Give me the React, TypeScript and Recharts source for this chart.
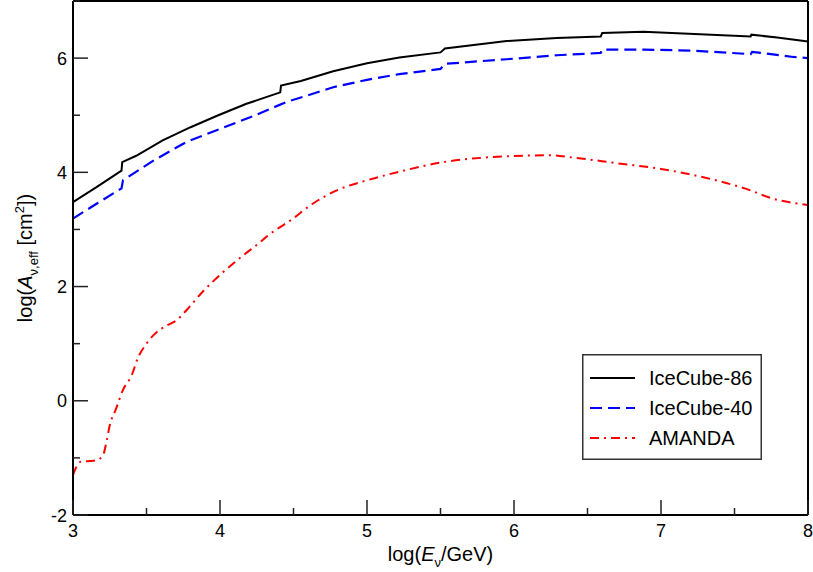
import React from 'react';
import { LineChart, Line, XAxis, YAxis, Legend } from 'recharts';

// log10(E / GeV) and log10(A_eff / cm^2)
const ic86Energy = [3.0, 3.16, 3.33, 3.335, 3.43, 3.61, 3.8, 3.98, 4.18, 4.41, 4.415, 4.55, 4.77, 5.0, 5.22, 5.5, 5.53, 5.95, 6.29, 6.59, 6.6, 6.88, 7.15, 7.61, 7.615, 7.79, 8.0];
const ic86Area = [3.48, 3.74, 4.03, 4.18, 4.29, 4.56, 4.79, 4.99, 5.2, 5.4, 5.52, 5.6, 5.77, 5.91, 6.01, 6.1, 6.17, 6.3, 6.35, 6.38, 6.44, 6.46, 6.43, 6.38, 6.41, 6.36, 6.29];

const ic40Energy = [3.0, 3.16, 3.33, 3.34, 3.55, 3.77, 4.0, 4.23, 4.45, 4.55, 4.77, 5.0, 5.22, 5.5, 5.53, 5.95, 6.29, 6.59, 6.6, 6.88, 7.22, 7.61, 7.62, 7.9, 8.0];
const ic40Area = [3.19, 3.45, 3.72, 3.86, 4.21, 4.53, 4.76, 4.99, 5.23, 5.31, 5.49, 5.62, 5.72, 5.81, 5.9, 5.98, 6.05, 6.09, 6.15, 6.15, 6.13, 6.07, 6.11, 6.02, 6.0];

const amandaEnergy = [3.0, 3.05, 3.14, 3.2, 3.23, 3.25, 3.29, 3.34, 3.4, 3.44, 3.5, 3.56, 3.64, 3.71, 3.77, 3.89, 4.02, 4.16, 4.26, 4.34, 4.48, 4.63, 4.79, 5.0, 5.25, 5.52, 5.81, 6.06, 6.24, 6.4, 6.7, 7.0, 7.31, 7.58, 7.76, 8.0];
const amandaArea = [-1.3, -1.07, -1.05, -0.98, -0.69, -0.43, -0.16, 0.19, 0.45, 0.74, 1.0, 1.18, 1.32, 1.42, 1.58, 1.93, 2.25, 2.55, 2.75, 2.92, 3.16, 3.45, 3.68, 3.86, 4.03, 4.18, 4.26, 4.29, 4.3, 4.26, 4.16, 4.06, 3.9, 3.71, 3.54, 3.43];

const xTicks = [3, 3.5, 4, 4.5, 5, 5.5, 6, 6.5, 7, 7.5, 8];
const yTicks = [-2, -1, 0, 1, 2, 3, 4, 5, 6, 7];

const FONT = '"Liberation Sans", Arial, Helvetica, sans-serif';

const toPoints = (xs: number[], ys: number[]) => xs.map((x, i) => ({ x, y: ys[i] }));

// IceCube curves have small steps, so they stay linear
const series = [
  { name: 'IceCube-86', data: toPoints(ic86Energy, ic86Area), color: '#000000', dash: undefined, width: 2, curve: 'linear' },
  { name: 'IceCube-40', data: toPoints(ic40Energy, ic40Area), color: '#0000ff', dash: '12 6', width: 2.2, curve: 'linear' },
  { name: 'AMANDA', data: toPoints(amandaEnergy, amandaArea), color: '#ff0000', dash: '9 5 2 5', width: 2, curve: 'monotone' },
];

const isMajor = (v: number) => Number.isInteger(v) && v % 2 === 0;

// ticks point into the plot, labels only on the bottom/left axes
const makeXTick = (side: 'bottom' | 'top') => (props: any) => {
  const { x, y, payload } = props;
  const v = payload.value;
  const len = Number.isInteger(v) ? 15 : 7;
  const dir = side === 'bottom' ? -1 : 1;
  return (
    <g>
      <line x1={x} y1={y} x2={x} y2={y + dir * len} stroke="#222" strokeWidth={1.5} />
      {side === 'bottom' && Number.isInteger(v) && (
        <text x={x} y={y + 22} textAnchor="middle" fontSize={18} fontFamily={FONT} fill="#000">{v}</text>
      )}
    </g>
  );
};

const makeYTick = (side: 'left' | 'right') => (props: any) => {
  const { x, y, payload } = props;
  const v = payload.value;
  const len = isMajor(v) ? 15 : 7;
  const dir = side === 'left' ? 1 : -1;
  return (
    <g>
      <line x1={x} y1={y} x2={x + dir * len} y2={y} stroke="#222" strokeWidth={1.5} />
      {side === 'left' && isMajor(v) && (
        <text x={x - 6} y={y + 6.5} textAnchor="end" fontSize={18} fontFamily={FONT} fill="#000">{v}</text>
      )}
    </g>
  );
};

const renderXTitle = (props: any) => {
  const { x, y, width } = props.viewBox;
  return (
    <text x={x + width / 2} y={y + 46} textAnchor="middle" fontSize={20} fontFamily={FONT} fill="#000">
      log(<tspan fontStyle="italic">E</tspan>
      <tspan dy={6} fontSize={13}>ν</tspan>
      <tspan dy={-6}>/GeV)</tspan>
    </text>
  );
};

const renderYTitle = (props: any) => {
  const { x, y, height } = props.viewBox;
  const cx = x + 32;
  const cy = y + height / 2;
  return (
    <text x={cx} y={cy} transform={`rotate(-90 ${cx} ${cy})`} textAnchor="middle" fontSize={20} fontFamily={FONT} fill="#000">
      log(<tspan fontStyle="italic">A</tspan>
      <tspan dy={6} fontSize={13}>ν,eff</tspan>
      <tspan dy={-6}> [cm</tspan>
      <tspan dy={-8} fontSize={13}>2</tspan>
      <tspan dy={8}>])</tspan>
    </text>
  );
};

const renderLegend = () => (
  <svg width={180} height={106} style={{ display: 'block' }}>
    <rect x={0.75} y={0.75} width={178.5} height={104.5} fill="#fff" stroke="#333" strokeWidth={1.5} />
    {series.map((s, i) => {
      const cy = 24 + i * 30;
      return (
        <g key={s.name}>
          <line x1={8} y1={cy} x2={53} y2={cy} stroke={s.color} strokeWidth={s.width} strokeDasharray={s.dash} />
          <text x={67} y={cy + 7} fontSize={20} fontFamily={FONT} fill="#000">{s.name}</text>
        </g>
      );
    })}
  </svg>
);

export default function App() {
  return (
    <div style={{ width: 813, height: 572, position: 'relative', background: '#fff' }}>
      <style>{'body{margin:0}'}</style>
      <LineChart width={813} height={572} margin={{ top: 0, right: 0, bottom: 0, left: 0 }}>
        <XAxis
          dataKey="x"
          type="number"
          domain={[3, 8]}
          ticks={xTicks}
          interval={0}
          height={57}
          tickSize={0}
          tickMargin={0}
          tickLine={false}
          axisLine={{ stroke: '#000', strokeWidth: 2 }}
          tick={makeXTick('bottom')}
          label={renderXTitle}
          allowDuplicatedCategory={false}
        />
        <XAxis
          xAxisId="top"
          orientation="top"
          type="number"
          domain={[3, 8]}
          ticks={xTicks}
          interval={0}
          height={1}
          tickSize={0}
          tickMargin={0}
          tickLine={false}
          axisLine={{ stroke: '#000', strokeWidth: 2 }}
          tick={makeXTick('top')}
        />
        <YAxis
          type="number"
          domain={[-2, 7]}
          ticks={yTicks}
          interval={0}
          width={73}
          tickSize={0}
          tickMargin={0}
          tickLine={false}
          axisLine={{ stroke: '#000', strokeWidth: 2 }}
          tick={makeYTick('left')}
          label={renderYTitle}
        />
        <YAxis
          yAxisId="right"
          orientation="right"
          type="number"
          domain={[-2, 7]}
          ticks={yTicks}
          interval={0}
          width={5}
          tickSize={0}
          tickMargin={0}
          tickLine={false}
          axisLine={{ stroke: '#000', strokeWidth: 2 }}
          tick={makeYTick('right')}
        />
        {series.map(s => (
          <Line
            key={s.name}
            name={s.name}
            data={s.data}
            dataKey="y"
            type={s.curve as any}
            stroke={s.color}
            strokeWidth={s.width}
            strokeDasharray={s.dash}
            dot={false}
            activeDot={false}
            isAnimationActive={false}
          />
        ))}
        <Legend
          layout="horizontal"
          verticalAlign="middle"
          align="center"
          content={renderLegend}
          wrapperStyle={{ left: 582, top: 354, width: 180, height: 106 }}
        />
      </LineChart>
    </div>
  );
}
